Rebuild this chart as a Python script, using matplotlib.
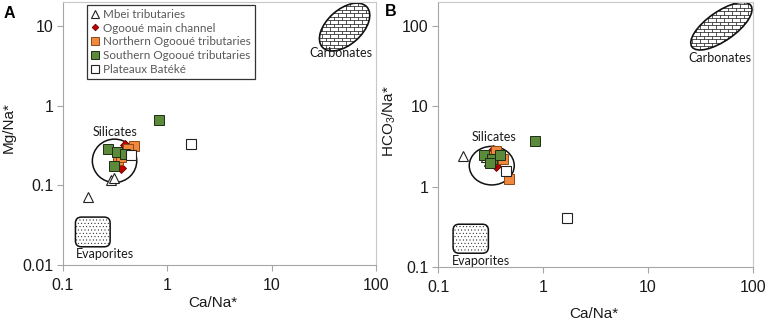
import numpy as np
import matplotlib
matplotlib.use("Agg")
import matplotlib.pyplot as plt
from matplotlib.patches import Ellipse, FancyBboxPatch
from matplotlib.collections import LineCollection
from matplotlib.transforms import ScaledTranslation
from matplotlib.ticker import FixedLocator, FuncFormatter, NullLocator

plt.rcParams['font.family'] = ['Liberation Sans', 'DejaVu Sans']
plt.rcParams['mathtext.fontset'] = 'custom'
plt.rcParams['mathtext.rm'] = 'Liberation Sans'
plt.rcParams['mathtext.it'] = 'Liberation Sans'
plt.rcParams['hatch.linewidth'] = 0.3

# ---- data (Ca/Na*, Mg/Na*, HCO3/Na*) ----
mbei_ca = [0.173, 0.286, 0.308]
mbei_mg = [0.072, 0.116, 0.123]
mbei_hco3 = [2.44, 2.35, 2.10]

ogooue_ca = [0.393, 0.360, 0.337, 0.350]
ogooue_mg = [0.322, 0.163, 0.241, 0.205]
ogooue_hco3 = [2.60, 1.80, 2.90, 2.00]

north_ca = [0.479, 0.420, 0.337, 0.360]
north_mg = [0.313, 0.286, 0.208, 0.227]
north_hco3 = [1.26, 2.20, 2.40, 2.76]

south_ca = [0.272, 0.330, 0.393, 0.310, 0.833]
south_mg = [0.286, 0.265, 0.246, 0.177, 0.664]
south_hco3 = [2.51, 2.22, 2.51, 1.98, 3.76]

bateke_ca = [0.449, 1.70]
bateke_mg = [0.241, 0.331]
bateke_hco3 = [1.55, 0.406]

labels = ["Mbei tributaries", "Ogooué main channel", "Northern Ogooué tributaries",
          "Southern Ogooué tributaries", "Plateaux Batéké"]

xticks = [0.1, 1, 10, 100]
yticks_a = [0.01, 0.1, 1, 10]
yticks_b = [0.1, 1, 10, 100]

styles = [
    dict(marker='^', ms=7.5, mfc='white', mec='#222222', mew=0.8),
    dict(marker='D', ms=4.8, mfc='#c00000', mec='#6b0000', mew=0.6),
    dict(marker='s', ms=7.4, mfc='#f0883e', mec='#8a4a1a', mew=0.7),
    dict(marker='s', ms=7.4, mfc='#5a8a3a', mec='#1e2e14', mew=0.7),
    dict(marker='s', ms=7.4, mfc='white', mec='#222222', mew=0.8),
]

fig = plt.figure(figsize=(7.68, 3.24), dpi=100)
axA = fig.add_axes([63/768, (324-265)/324, 313/768, 263/324])
axB = fig.add_axes([438/768, (324-267)/324, 315/768, 265/324])


def to_axes(ax, x, y):
    x0, x1 = ax.get_xlim()
    y0, y1 = ax.get_ylim()
    fx = (np.log10(x) - np.log10(x0)) / (np.log10(x1) - np.log10(x0))
    fy = (np.log10(y) - np.log10(y0)) / (np.log10(y1) - np.log10(y0))
    return fx, fy


def offset_trans(ax, x, y):
    fx, fy = to_axes(ax, x, y)
    return fig.dpi_scale_trans + ScaledTranslation(fx, fy, ax.transAxes)


def silicates(ax, x, y, w, h):
    t = offset_trans(ax, x, y)
    ax.add_patch(Ellipse((0, 0), w/100, h/100, transform=t, fill=False,
                         ec='#111111', lw=1.1, zorder=1.5))


def carbonates(ax, x, y, w, h, angle):
    t = offset_trans(ax, x, y)
    base = Ellipse((0, 0), w/100, h/100, angle=angle, transform=t,
                   fc='white', ec='none', zorder=2)
    ax.add_patch(base)
    # brick pattern
    rowh, brick = 0.035, 0.08
    half = max(w, h) / 200 + 0.05
    segs = []
    rows = np.arange(-half, half, rowh)
    for k, yy in enumerate(rows):
        segs.append([(-half, yy), (half, yy)])
        off = (k % 2) * brick / 2
        for xx in np.arange(-half + off, half, brick):
            segs.append([(xx, yy), (xx, yy + rowh)])
    lc = LineCollection(segs, colors='#111111', linewidths=0.5, transform=t, zorder=2.1)
    ax.add_collection(lc)
    lc.set_clip_path(base)
    ax.add_patch(Ellipse((0, 0), w/100, h/100, angle=angle, transform=t,
                         fill=False, ec='#111111', lw=1.2, zorder=2.2))


def evaporites(ax, x, y, w, h):
    t = offset_trans(ax, x, y)
    ax.add_patch(FancyBboxPatch((-w/200, -h/200), w/100, h/100,
                                boxstyle='round,pad=0,rounding_size=0.06',
                                transform=t, fc='white', ec='#111111', lw=1.1,
                                hatch='.....', zorder=2))


def setup(ax, ylim, yticks, ylabel):
    ax.set_xscale('log')
    ax.set_yscale('log')
    ax.set_xlim(0.1, 100)
    ax.set_ylim(*ylim)
    ax.xaxis.set_major_locator(FixedLocator(xticks))
    ax.yaxis.set_major_locator(FixedLocator(yticks))
    ax.xaxis.set_minor_locator(NullLocator())
    ax.yaxis.set_minor_locator(NullLocator())
    fmt = FuncFormatter(lambda v, p: '%g' % v)
    ax.xaxis.set_major_formatter(fmt)
    ax.yaxis.set_major_formatter(fmt)
    for s in ax.spines.values():
        s.set_color('#c8c8c8')
        s.set_linewidth(0.8)
    ax.spines['left'].set_color('#a6a6a6')
    ax.spines['bottom'].set_color('#a6a6a6')
    ax.tick_params(axis='both', which='major', length=4, width=0.8, color='#a6a6a6',
                   labelsize=11.5, labelcolor='#1a1a1a', pad=3)
    ax.tick_params(axis='x', pad=5)
    ax.set_xlabel('Ca/Na*', fontsize=11, color='#1a1a1a')
    ax.set_ylabel(ylabel, fontsize=11, color='#1a1a1a')


setup(axA, (0.01, 20), yticks_a, 'Mg/Na*')
setup(axB, (0.1, 200), yticks_b, r'HCO$_{3}$/Na*')

axA.xaxis.set_label_coords(0.479, -0.118)
axB.xaxis.set_label_coords(0.495, -0.150)
axA.yaxis.set_label_coords(-0.15, 0.521)
axB.yaxis.set_label_coords(-0.128, 0.551)

# reference fields
silicates(axA, 0.312, 0.203, 44.4, 43.4)
silicates(axB, 0.325, 1.83, 45.0, 38.6)
carbonates(axA, 50, 9.7, 60, 35, 42)
carbonates(axB, 50, 100, 72, 29, 35)
evaporites(axA, 0.193, 0.026, 34.7, 29.7)
evaporites(axB, 0.205, 0.225, 35.3, 29.0)

ann = dict(ha='center', va='center', fontsize=9, family=['Lato', 'DejaVu Sans'],
           color='#1a1a1a', zorder=3)
axA.text(0.315, 0.465, 'Silicates', **ann)
axB.text(0.339, 4.13, 'Silicates', **ann)
axA.text(46.3, 4.57, 'Carbonates', **ann)
axB.text(48.2, 40.2, 'Carbonates', **ann)
axA.text(0.253, 0.0137, 'Evaporites', **ann)
axB.text(0.255, 0.12, 'Evaporites', **ann)

# samples
ca_sets = [mbei_ca, ogooue_ca, north_ca, south_ca, bateke_ca]
mg_sets = [mbei_mg, ogooue_mg, north_mg, south_mg, bateke_mg]
hc_sets = [mbei_hco3, ogooue_hco3, north_hco3, south_hco3, bateke_hco3]
handles = []
for i in range(5):
    h, = axA.plot(ca_sets[i], mg_sets[i], ls='none', label=labels[i], zorder=4 + i, **styles[i])
    axB.plot(ca_sets[i], hc_sets[i], ls='none', zorder=4 + i, **styles[i])
    handles.append(h)

leg = axA.legend(handles=handles, loc='upper left', bbox_to_anchor=(0.077, 0.99),
                 prop={'family': ['Lato', 'DejaVu Sans'], 'size': 8.4},
                 labelcolor='#595959', markerscale=0.7, handlelength=0.7,
                 handletextpad=0.3, borderpad=0.35, labelspacing=0.24,
                 borderaxespad=0, fancybox=False, framealpha=1)
leg.get_frame().set_edgecolor('#333333')
leg.get_frame().set_linewidth(0.9)
leg.set_zorder(20)

fig.text(9/768, 1 - 13/324, 'A', fontsize=11.5, fontweight='bold', ha='center', va='center')
fig.text(391/768, 1 - 12/324, 'B', fontsize=11.5, fontweight='bold', ha='center', va='center')

fig.savefig('out.png', dpi=100)
